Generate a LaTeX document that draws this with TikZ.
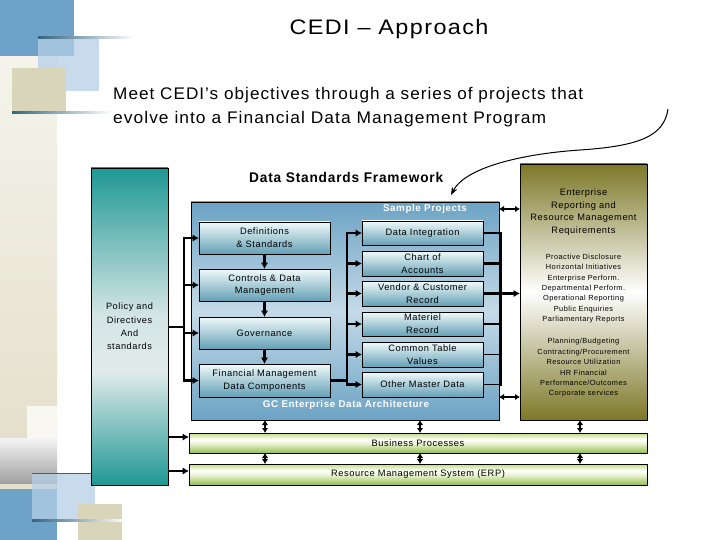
\documentclass[tikz,border=0pt]{standalone}
\usepackage{fontspec}
\setmainfont{Liberation Sans}[LetterSpace=6]
\usetikzlibrary{arrows.meta}
\definecolor{tealC}{RGB}{30,152,148}
\definecolor{tealL}{RGB}{226,235,235}
\definecolor{blueC}{RGB}{108,163,196}
\definecolor{blueL}{RGB}{196,218,231}
\definecolor{oliveC}{RGB}{125,120,40}
\definecolor{boxT}{RGB}{240,250,250}
\definecolor{boxB}{RGB}{100,160,182}
\definecolor{grT}{RGB}{196,220,130}
\definecolor{grB}{RGB}{150,190,75}
\definecolor{decBlue}{RGB}{110,162,200}
\definecolor{decLBlue}{RGB}{180,207,230}
\definecolor{decBeige}{RGB}{217,213,187}
\definecolor{creamT}{RGB}{245,244,236}
\definecolor{creamB}{RGB}{228,224,204}
\definecolor{decLine}{RGB}{50,100,130}
\pgfdeclareverticalshading{tealsh}{100bp}{color(0bp)=(tealC); color(25bp)=(tealC); color(43bp)=(tealL); color(52bp)=(tealL!92!tealC); color(75bp)=(tealC); color(100bp)=(tealC)}
\pgfdeclareverticalshading{greensh}{100bp}{color(0bp)=(grB); color(25bp)=(grB); color(50bp)=(white!70!grT); color(59bp)=(white); color(75bp)=(grT); color(100bp)=(grT)}
\begin{document}
\begin{tikzpicture}[x=1pt,y=-1pt,
  box/.style={draw=black, line width=0.8pt, inner sep=0pt, outer sep=0pt, align=center,
    top color=boxT, bottom color=boxB, font=\fontsize{9.3}{12.8}\selectfont},
  bar/.style={draw=black, line width=0.8pt, inner sep=0pt, outer sep=0pt,
    shading=greensh, minimum width=458pt,
    font=\fontsize{9.3}{12}\selectfont},
  conn/.style={line width=2.4pt},
  thinconn/.style={line width=1.3pt},
  arr/.style={line width=2.4pt, -{Latex[length=6.5pt,width=7.5pt]}},
  dbl/.style={line width=1.7pt, {Latex[length=5pt,width=6.5pt]}-{Latex[length=5pt,width=6.5pt]}},
  wlab/.style={text=white, font=\bfseries\fontsize{9.8}{12}\selectfont, inner sep=0pt},
  etxt/.style={align=center, inner sep=0pt, font=\fontsize{9.3}{12.8}\selectfont},
  elist/.style={align=center, inner sep=0pt, font=\fontsize{7.4}{10.4}\selectfont},
]
\useasboundingbox (0,0) rectangle (720,540);
% ---- background decorations, top left
\shade[top color=creamT, bottom color=creamB] (0,56) rectangle (57,440);
\fill[decBlue] (0,0) rectangle (74,56);
\fill[decLBlue, opacity=0.75] (38,38) rectangle (99,91);
\fill[decBeige] (12,68) rectangle (66,113);
\shade[left color=decLine, right color=white] (38,37) rectangle (135,39);
\shade[left color=decLine, right color=white] (12,112) rectangle (112,114);
% ---- background decorations, bottom left
\fill[creamT!75!white] (27,406) rectangle (57,451);
\shade[top color=white!92!gray, bottom color=gray!75] (0,438) rectangle (57,484);
\fill[creamB] (0,484) rectangle (57,489);
\fill[decBlue] (0,489) rectangle (57,540);
\fill[decLBlue, opacity=0.75] (32,473) rectangle (95,520);
\fill[decBeige] (78,504) rectangle (122,540);
\fill[decLine] (32,472.5) rectangle (95,474);
\shade[left color=decLine, right color=white] (32,519.5) rectangle (125,521);
% ---- titles
\node[anchor=base, inner sep=0pt] (title) at (389,35)
  {\resizebox{199pt}{\height}{\fontsize{21}{24}\selectfont CEDI -- Approach}};
\node[anchor=base west, inner sep=0pt] (sub1) at (113,99.5)
  {\resizebox{470pt}{\height}{\fontsize{16.8}{20}\selectfont Meet CEDI’s objectives through a series of projects that}};
\node[anchor=base west, inner sep=0pt] (sub2) at (113,124)
  {\resizebox{433pt}{\height}{\fontsize{16.8}{20}\selectfont evolve into a Financial Data Management Program}};
\node[anchor=base west, inner sep=0pt] (dsf) at (249,183)
  {\resizebox{194pt}{\height}{\bfseries\fontsize{14}{16}\selectfont Data Standards Framework}};
% ---- big boxes
\node[draw=black, line width=0.8pt, inner sep=0pt, outer sep=0pt, shading=tealsh,
  minimum width=77pt, minimum height=317pt] (pol) at (129.5,326.5) {};
\node[etxt, font=\fontsize{9.2}{13.3}\selectfont] (poltxt) at (129.5,326.5) {Policy and\\Directives\\And\\standards};
\node[draw=black, line width=0.8pt, inner sep=0pt, outer sep=0pt,
  top color=blueC, bottom color=blueC, middle color=blueL,
  minimum width=308pt, minimum height=218pt] (gc) at (345,311) {};
\node[draw=black, line width=0.8pt, inner sep=0pt, outer sep=0pt,
  top color=oliveC, bottom color=oliveC, middle color=white,
  minimum width=127pt, minimum height=256pt] (ent) at (583.5,292) {};
\node[wlab] (sp) at (425,209) {Sample Projects};
\node[wlab] (gclab) at (346,405) {GC Enterprise Data Architecture};
\node[etxt] (enth) at (583.5,212) {Enterprise\\Reporting and\\Resource Management\\Requirements};
\node[elist] (el1) at (583.5,288.5) {Proactive Disclosure\\Horizontal Initiatives\\Enterprise Perform.\\Departmental Perform.\\Operational Reporting\\Public Enquiries\\Parliamentary Reports};
\node[elist] (el2) at (583.5,368) {Planning/Budgeting\\Contracting/Procurement\\Resource Utilization\\HR Financial\\Performance/Outcomes\\Corporate services};
% ---- left column boxes
\node[box, minimum width=131pt, minimum height=32pt] (d1) at (264.5,238) {Definitions\\\& Standards};
\node[box, minimum width=131pt, minimum height=32pt] (d2) at (264.5,285) {Controls \& Data\\Management};
\node[box, minimum width=131pt, minimum height=32pt] (d3) at (264.5,333) {Governance};
\node[box, minimum width=131pt, minimum height=33pt] (d4) at (264.5,380.5) {Financial Management\\Data Components};
% ---- right column boxes
\node[box, minimum width=121pt, minimum height=24pt] (p1) at (422.5,233) {Data Integration};
\node[box, minimum width=121pt, minimum height=25pt] (p2) at (422.5,263.5) {Chart of\\Accounts};
\node[box, minimum width=121pt, minimum height=25pt] (p3) at (422.5,293.5) {Vendor \& Customer\\Record};
\node[box, minimum width=121pt, minimum height=24pt] (p4) at (422.5,324) {Materiel\\Record};
\node[box, minimum width=121pt, minimum height=25pt] (p5) at (422.5,354.5) {Common Table\\Values};
\node[box, minimum width=121pt, minimum height=25pt] (p6) at (422.5,384.5) {Other Master Data};
% ---- bottom bars
\node[bar, minimum height=20pt] (bp) at (418,443) {Business Processes};
\node[bar, minimum height=21pt] (erp) at (418,474.5) {Resource Management System (ERP)};
% ---- connectors: policy bus
\coordinate (bL) at (184,327);
\draw[conn] (pol.east |- bL) -- (bL);
\draw[conn, line cap=rect] (bL |- d1) -- (bL |- d4);
\foreach \n in {d1,d2,d3,d4} \draw[arr] (bL |- \n) -- (\n.west);
\draw[arr] (d1.south) -- (d2.north);
\draw[arr] (d2.south) -- (d3.north);
\draw[arr] (d3.south) -- (d4.north);
% ---- connectors: project bus
\coordinate (bM) at (347,380.5);
\draw[conn] (d4.east) -- (bM);
\draw[conn, line cap=rect] (bM |- p1) -- (bM |- p6);
\foreach \n in {p1,p2,p3,p4,p5,p6} \draw[arr] (bM |- \n) -- (\n.west);
% ---- connectors: right bus to enterprise box
\coordinate (bR) at (501,293.5);
\draw[conn, line cap=rect] (bR |- p1) -- (bR |- p6);
\foreach \n in {p1,p4,p5,p6} \draw[thinconn] (\n.east) -- (bR |- \n);
\foreach \n in {p2,p3} \draw[line width=3pt] (\n.east) -- (bR |- \n);
\draw[arr] (bR) -- (ent.west |- bR);
\coordinate (t1) at (0,209);
\coordinate (t2) at (0,397);
\draw[dbl] (gc.east |- t1) -- (ent.west |- t1);
\draw[dbl] (gc.east |- t2) -- (ent.west |- t2);
% ---- connectors: bottom
\coordinate (va) at (265,0);
\coordinate (vb) at (420,0);
\coordinate (vc) at (580,0);
\foreach \v in {va,vb} {
  \draw[dbl] (\v |- gc.south) -- (\v |- bp.north);
  \draw[dbl] (\v |- bp.south) -- (\v |- erp.north);
}
\draw[dbl] (vc |- ent.south) -- (vc |- bp.north);
\draw[dbl] (vc |- bp.south) -- (vc |- erp.north);
\coordinate (ya) at (0,437);
\coordinate (yb) at (0,471);
\draw[arr] (pol.east |- ya) -- (bp.west |- ya);
\draw[arr] (pol.east |- yb) -- (erp.west |- yb);
% ---- curved arrow
\coordinate (cs) at (668,109);
\coordinate (cm) at (580,150);
\coordinate (ce) at (451,195);
\draw[line width=1pt, -{Stealth[length=8pt,width=6pt]}] (cs) .. controls (664,136) and (640,146) .. (cm)
  .. controls (520,154) and (465,168) .. (ce);
\end{tikzpicture}
\end{document}
